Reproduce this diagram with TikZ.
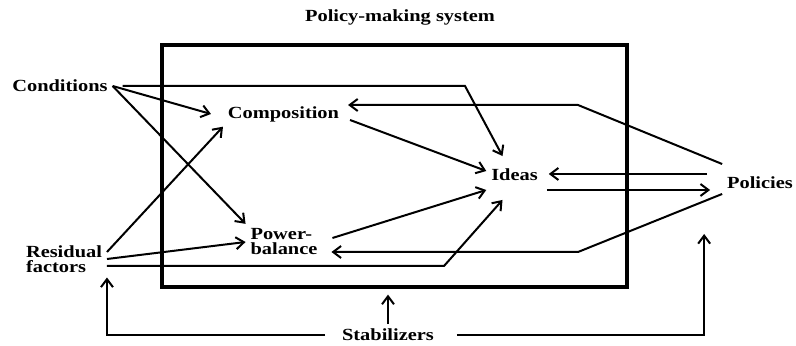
\documentclass[tikz,border=0pt]{standalone}
\usepackage{fontspec}
\newfontfamily\diagfont{Liberation Serif}[FakeStretch=1.2]
\usetikzlibrary{arrows.meta,calc}

\begin{document}
\begin{tikzpicture}[x=0.5pt,y=-0.5pt,line width=1pt,>={Straight Barb[length=4pt,width=6pt]},
    main node/.style={font=\diagfont\bfseries\fontsize{8.5}{7.5}\selectfont,inner sep=2pt,align=left},
    frame/.style={draw,line width=1.6pt,minimum width=232.5pt,minimum height=121pt,inner sep=0pt}]
    \useasboundingbox (0,0) rectangle (796,346);

    \node[main node] at (400, 17) (title) {Policy-making system};
    \node[frame] at (394.5, 166) (sys) {};
    \node[main node] at (60, 86) (cond) {Conditions};
    \node[main node] at (283.5, 114) (comp) {Composition};
    \node[main node] at (514.5, 175) (ideas) {Ideas};
    \node[main node] at (760, 183) (pol) {Policies};
    \node[main node] at (284, 242) (pb) {Power-\\balance};
    \node[main node] at (64, 259) (res) {Residual\\factors};
    \node[main node] at (388, 335) (stab) {Stabilizers};

    % bend points
    \coordinate (kc) at (465, 85);
    \coordinate (kr) at (444, 266);
    \coordinate (pc) at (578, 105);
    \coordinate (pd) at (578, 252);

    % conditions
    \path[->] (cond.east) edge ([xshift=-6pt]comp.west);
    \path[->] (cond.east) edge (pb.north west);
    \draw[->] ([xshift=5pt]cond.east) -- (cond.east -| kc) -- ([shift={(-6pt,4pt)}]ideas.north);

    % residual factors
    \path[->] ([yshift=3.5pt]res.east) edge (comp.south west);
    \path[->] (res.east) edge (pb.west);
    \draw[->] ([yshift=-3.5pt]res.east) -- ([yshift=-3.5pt]res.east -| kr) -- ([shift={(-6pt,-7pt)}]ideas.south);

    % inside the system
    \path[->] ([shift={(3pt,-3pt)}]comp.east) edge ([yshift=2pt]ideas.west);
    \path[->] ([shift={(5pt,2pt)}]pb.east) edge ([yshift=-7.5pt]ideas.west);

    % policies
    \draw[->] ([yshift=4pt]pol.north west) -- (pc) -- ($(pc -| comp.east)+(2pt,0)$);
    \draw[->] (pol.south west) -- (pd) -- ($(pd -| pb.east)+(4.5pt,0)$);
    \path[->] ($(pol.west)+(-7.5pt,4.5pt)$) edge ($(ideas.east)+(3pt,0.5pt)$);
    \path[->] ($(ideas.east)+(2pt,-7.5pt)$) edge ($(pol.west)+(-6pt,-3.5pt)$);

    % stabilizers
    \draw[->] (stab.north) -- ($(stab.north |- sys.south)+(0,-3pt)$);
    \draw[->] ($(stab.west)+(-6pt,0)$) -| (res.south east);
    \draw[->] ($(stab.east)+(9pt,0)$) -| ($(pol.south west)+(-9pt,-20pt)$);
\end{tikzpicture}
\end{document}
